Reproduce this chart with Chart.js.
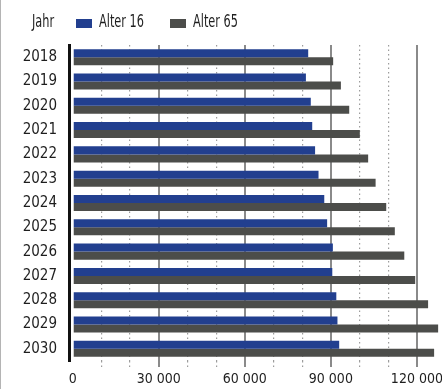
<!DOCTYPE html>
<html>
<head>
<meta charset="utf-8">
<script src="https://cdn.jsdelivr.net/npm/chart.js@4/dist/chart.umd.min.js"></script>
<style>
  html, body { margin: 0; padding: 0; background: #fff; }
  #wrap { position: relative; width: 442px; height: 389px; }
  #frame { position: absolute; left: 0; top: 0; width: 1px; height: 389px; background: #b4b4b4; }
  .lg { position: absolute; top: 11px; font: 17px "DejaVu Sans Condensed", sans-serif; color: #1e1e1e;
        line-height: 20px; transform: scaleX(0.74); transform-origin: 0 0; white-space: nowrap; }
  .box { position: absolute; top: 19px; width: 16px; height: 9px; }
</style>
</head>
<body>
<div id="wrap">
  <canvas id="chart" width="442" height="389"></canvas>
  <div id="frame"></div>
  <span class="lg" style="left:32px">Jahr</span>
  <span class="box" id="box16" style="left:76px"></span>
  <span class="lg" style="left:99px" id="lab16"></span>
  <span class="box" id="box65" style="left:170px"></span>
  <span class="lg" style="left:193px" id="lab65"></span>
</div>
<script>
// Daten
const jahre = ['2018', '2019', '2020', '2021', '2022', '2023', '2024', '2025', '2026', '2027', '2028', '2029', '2030'];
const alter16 = [82100, 81300, 83000, 83500, 84500, 85700, 87700, 88700, 90700, 90500, 91900, 92300, 92900];
const alter65 = [90800, 93500, 96400, 100100, 103000, 105600, 109300, 112300, 115600, 119400, 123900, 127400, 126000];
const serien = ['Alter 16', 'Alter 65'];
const xTicks = [0, 10000, 20000, 30000, 40000, 50000, 60000, 70000, 80000, 90000, 100000, 110000, 120000];

const BLAU = '#223f8f';
const GRAU = '#4c4d4a';
const FONT = '"DejaVu Sans Condensed", sans-serif';

// Legende (HTML)
document.getElementById('box16').style.background = BLAU;
document.getElementById('box65').style.background = GRAU;
document.getElementById('lab16').textContent = serien[0];
document.getElementById('lab65').textContent = serien[1];

const fmt = v => String(v).replace(/\B(?=(\d{3})+(?!\d))/g, ' ');
const isMajor = v => v % 30000 === 0;
const dots = ctx => (ctx.tick && isMajor(ctx.tick.value) ? [] : [1.5, 3]);

new Chart(document.getElementById('chart'), {
  type: 'bar',
  data: {
    labels: jahre,
    datasets: [
      { label: serien[0], data: alter16, backgroundColor: BLAU },
      { label: serien[1], data: alter65, backgroundColor: GRAU }
    ]
  },
  options: {
    indexAxis: 'y',
    responsive: false,
    animation: false,
    layout: { padding: { top: 45, right: 1, bottom: 0, left: 0 } },
    datasets: { bar: { categoryPercentage: 0.66, barPercentage: 1 } },
    plugins: { legend: { display: false }, tooltip: { enabled: false } },
    scales: {
      x: {
        min: -1300,
        max: 128400,
        afterBuildTicks: s => { s.ticks = xTicks.map(v => ({ value: v })); },
        afterFit: s => { s.height = 28; s.paddingLeft = 0; s.paddingRight = 0; },
        grid: {
          tickLength: 6,
          color: ctx => {
            const v = ctx.tick ? ctx.tick.value : 0;
            if (v === 0) return 'rgba(0,0,0,0)';
            return isMajor(v) ? '#8a8a8a' : '#9c9c9c';
          },
          lineWidth: ctx => (ctx.tick && isMajor(ctx.tick.value) ? 2 : 1.2),
          tickBorderDash: dots
        },
        border: { display: false, dash: dots },
        ticks: {
          autoSkip: false,
          maxRotation: 0,
          padding: 5,
          color: '#1e1e1e',
          font: { family: FONT, size: 14, lineHeight: 1 },
          callback: v => (isMajor(v) ? fmt(v) : '')
        }
      },
      y: {
        afterFit: s => { s.width = 69; },
        grid: { display: false, drawTicks: false },
        border: { display: true, color: '#111', width: 3 },
        ticks: {
          padding: 12,
          color: '#1e1e1e',
          font: { family: FONT, size: 15 }
        }
      }
    }
  }
});
</script>
</body>
</html>
